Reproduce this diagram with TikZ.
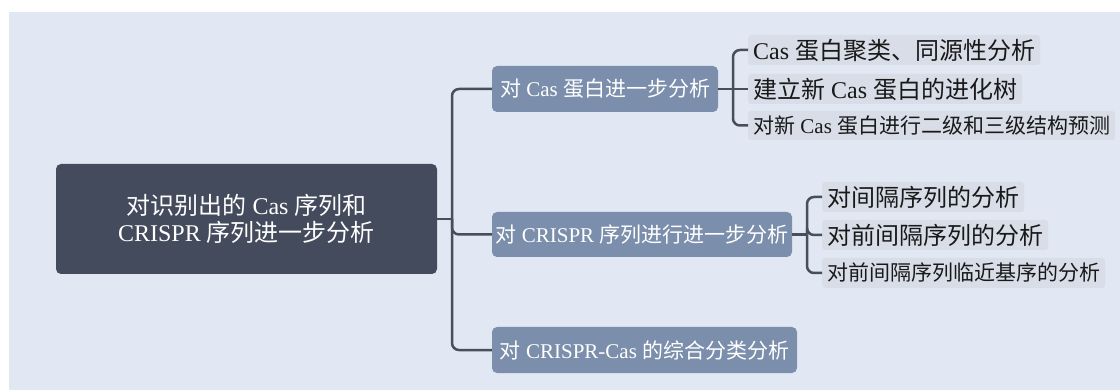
\documentclass[tikz,border=0pt]{standalone}
\usepackage{fontspec}
\setmainfont{Liberation Serif}
\newfontfamily\cjk{Noto Sans CJK SC}
\definecolor{bgc}{RGB}{225,232,243}
\definecolor{rootc}{RGB}{67,75,92}
\definecolor{branchc}{RGB}{123,142,171}
\definecolor{leafc}{RGB}{216,221,231}
\definecolor{linec}{RGB}{72,78,90}
\definecolor{leaftext}{RGB}{25,25,25}
\begin{document}
\begin{tikzpicture}[x=1pt,y=-1pt,
  rootbox/.style={fill=rootc,rounded corners=5pt,text=white,align=center,
    minimum width=381pt,minimum height=110pt,inner sep=0pt,
    font=\fontsize{24}{27}\selectfont},
  branchbox/.style={fill=branchc,rounded corners=5pt,text=white,
    minimum height=46pt,inner sep=0pt,font=\fontsize{21}{24}\selectfont},
  leafbox/.style={fill=leafc,rounded corners=3pt,text=leaftext,anchor=west,
    minimum height=30pt,inner xsep=5pt,inner ysep=0pt},
  bigleaf/.style={leafbox,font=\fontsize{24}{27}\selectfont},
  smallleaf/.style={leafbox,font=\fontsize{21}{24}\selectfont},
  conn/.style={draw=linec,line width=2.5pt,rounded corners=7pt}
]
\useasboundingbox (0,0) rectangle (1120,390);
\fill[bgc] (9,12) rectangle (1120,390);

\node[rootbox] (root) at (246.5,219) {{\cjk 对识别出的} Cas {\cjk 序列和}\\CRISPR {\cjk 序列进一步分析}};

\node[branchbox,minimum width=226pt] (b1) at (605,89) {{\cjk 对} Cas {\cjk 蛋白进一步分析}};
\node[branchbox,minimum width=300pt,minimum height=45pt] (b2) at (642,234.5) {{\cjk 对} CRISPR {\cjk 序列进行进一步分析}};
\node[branchbox,minimum width=305pt] (b3) at (644.5,350) {{\cjk 对} CRISPR-Cas {\cjk 的综合分类分析}};

\node[bigleaf] (c1) at (748,50) {Cas {\cjk 蛋白聚类、同源性分析}\hspace{9pt}};
\node[bigleaf] (c2) at (748,89) {{\cjk 建立新} Cas {\cjk 蛋白的进化树}\hspace{6pt}};
\node[smallleaf,minimum height=29pt] (c3) at (748,125.5) {{\cjk 对新} Cas {\cjk 蛋白进行二级和三级结构预测}\hspace{3pt}};

\node[bigleaf] (c4) at (822,197) {{\cjk 对间隔序列的分析}\hspace{18pt}};
\node[bigleaf] (c5) at (822,235) {{\cjk 对前间隔序列的分析}\hspace{10pt}};
\node[smallleaf] (c6) at (822,273) {{\cjk 对前间隔序列临近基序的分析}\hspace{9pt}};

\coordinate (tj) at (452,219);
\coordinate (k1) at (733,89);
\coordinate (k2) at (807,234.5);

\draw[conn] (root.east) -- (tj);
\draw[conn] (tj) |- (b1.west);
\draw[conn] (tj) |- (b2.west);
\draw[conn] (tj) |- (b3.west);

\draw[conn] (b1.east) -- (k1);
\draw[conn] (k1) |- (c1.west);
\draw[conn] (k1) -- (c2.west);
\draw[conn] (k1) |- (c3.west);

\draw[conn] (b2.east) -- (k2);
\draw[conn] (k2) |- (c4.west);
\draw[conn] (k2) |- (c5.west);
\draw[conn] (k2) |- (c6.west);
\end{tikzpicture}
\end{document}
